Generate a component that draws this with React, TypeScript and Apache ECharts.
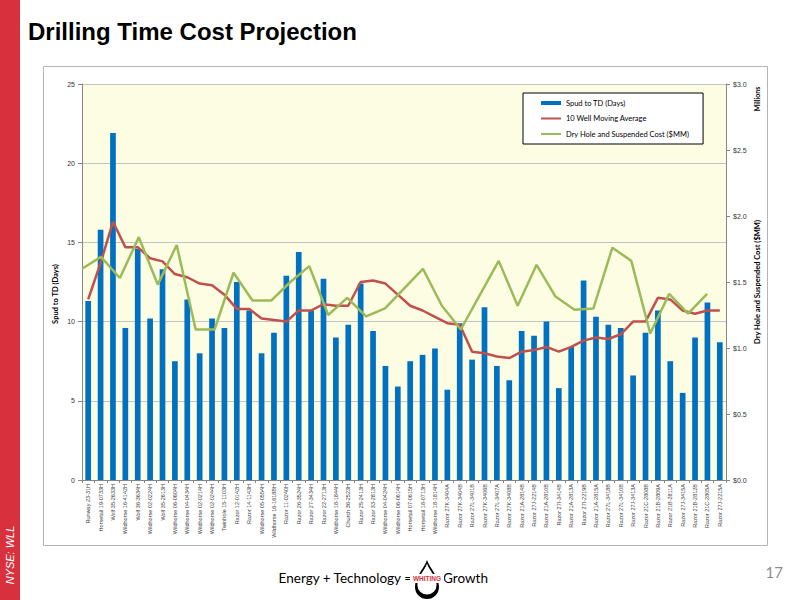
import React, { useEffect, useRef } from 'react';
import * as echarts from 'echarts';

const wells = [
  'Runway 23-31H', 'Horsetail 19-0733H', 'Wolf 35-2633H', 'Wildhorse 16-4142H', 'Wolf 36-3634H',
  'Wildhorse 02-0224H', 'Wolf 35-2613H', 'Wildhorse 06-0604H', 'Wildhorse 04-0434H', 'Wildhorse 02-0214H',
  'Wildhorse 02-0244H', 'Twinhole 15-1103H', 'Razor 12-0142H', 'Razor 14-1143H', 'Wildhorse 05-0554H',
  'Wildhorse 16-1618BH', 'Razor 11-0240H', 'Razor 26-3524H', 'Razor 27-3434H', 'Razor 22-2713H',
  'Wildhorse 18-1844H', 'Church 36-2523H', 'Razor 25-2413H', 'Razor 33-2813H', 'Wildhorse 04-0424H',
  'Wildhorse 06-0614H', 'Horsetail 07-0615H', 'Horsetail 18-0713H', 'Wildhorse 18-1814H', 'Razor 27K-3404A',
  'Razor 27K-3404B', 'Razor 27L-3401B', 'Razor 27K-3406B', 'Razor 27L-3407A', 'Razor 27K-3408B',
  'Razor 21A-2814B', 'Razor 27J-2214B', 'Razor 21A-2810B', 'Razor 27I-3414B', 'Razor 21A-2813A',
  'Razor 27I-2219B', 'Razor 21A-2815A', 'Razor 27L-3418B', 'Razor 27L-3410B', 'Razor 27J-3413A',
  'Razor 21C-2808B', 'Razor 21B-2809A', 'Razor 21B-2811A', 'Razor 27J-3415A', 'Razor 21B-2812B',
  'Razor 21C-2805A', 'Razor 27J-2215A',
];

const spudDays = [
  11.3, 15.8, 21.9, 9.6, 14.6, 10.2, 13.3, 7.5, 11.4, 8.0,
  10.2, 9.6, 12.5, 10.7, 8.0, 9.3, 12.9, 14.4, 10.7, 12.7,
  9.0, 9.8, 12.4, 9.4, 7.2, 5.9, 7.5, 7.9, 8.3, 5.7,
  9.9, 7.6, 10.9, 7.2, 6.3, 9.4, 9.1, 10.0, 5.8, 8.4,
  12.6, 10.3, 9.8, 9.6, 6.6, 9.3, 10.7, 7.5, 5.5, 9.0,
  11.2, 8.7,
];

const movingAvg = [
  11.4, 13.7, 16.3, 14.7, 14.7, 14.0, 13.8, 13.0, 12.8, 12.4,
  12.3, 11.7, 10.8, 10.8, 10.2, 10.1, 10.0, 10.7, 10.7, 11.1,
  11.0, 11.0, 12.5, 12.6, 12.4, 11.7, 11.0, 10.7, 10.3, 9.9,
  9.8, 8.1, 8.0, 7.8, 7.7, 8.1, 8.2, 8.4, 8.1, 8.4,
  8.8, 9.0, 8.9, 9.2, 10.0, 10.0, 11.5, 11.4, 10.7, 10.5,
  10.7, 10.7,
];

const dryHoleCost = [
  1.60, 1.69, 1.53, 1.84, 1.48, 1.78, 1.14, 1.14, 1.57, 1.36,
  1.36, 1.50, 1.62, 1.25, 1.38, 1.24, 1.30, 1.45, 1.60, 1.32,
  1.14, 1.40, 1.66, 1.32, 1.63, 1.39, 1.29, 1.30, 1.76, 1.66,
  1.11, 1.41, 1.26, 1.41,
];

// slots of the hidden secondary category axis used by the cost line
const costSlots = [
  '1', '2', '3', '4', '5', '6', '7', '8', '9', '10', '11', '12', '13', '14', '15', '16', '17', '18',
  '19', '20', '21', '22', '23', '24', '25', '26', '27', '28', '29', '30', '31', '32', '33', '34', '35',
];

const leftTicks = { min: 0, max: 25, interval: 5 };
const rightTicks = { min: 0, max: 3, interval: 0.5 };

const dropPath =
  'M0,-22 C3,-13 12,-6 12,5 A12,12 0 1 1 -12,5 C-12,-6 -3,-13 0,-22 Z';
echarts.graphic.registerShape('drop', echarts.graphic.extendPath(dropPath, {}) as any);

export default function App() {
  const ref = useRef<HTMLDivElement>(null);

  useEffect(() => {
    if (!ref.current) return;
    const chart = echarts.init(ref.current, undefined, { renderer: 'svg' });
    const axisGray = '#868686';
    const option: any = {
      animation: false,
      backgroundColor: '#ffffff',
      textStyle: { fontFamily: 'Liberation Sans' },
      grid: {
        left: 82,
        right: 74,
        top: 84,
        bottom: 120,
        show: true,
        backgroundColor: '#fdfde4',
        borderWidth: 0,
      },
      legend: {
        orient: 'vertical',
        left: 523,
        top: 93,
        padding: [6, 14, 6, 17],
        itemGap: 7.5,
        itemWidth: 20,
        itemHeight: 4,
        selectedMode: false,
        backgroundColor: '#ffffff',
        borderColor: '#000000',
        borderWidth: 1,
        textStyle: { fontSize: 7.5, fontFamily: 'Lato', color: '#000000' },
        data: [
          { name: 'Spud to TD (Days)', icon: 'rect' },
          { name: '10 Well Moving Average', itemStyle: { opacity: 0 } },
          { name: 'Dry Hole and Suspended Cost ($MM)', itemStyle: { opacity: 0 } },
        ],
      },
      xAxis: [
        {
          type: 'category',
          data: wells,
          boundaryGap: true,
          axisLine: { show: true, lineStyle: { color: axisGray } },
          axisTick: { show: true, interval: 0, length: 3, lineStyle: { color: axisGray } },
          axisLabel: {
            interval: 0,
            rotate: 90,
            fontSize: 5.5,
            color: '#404040',
            margin: 4,
            fontFamily: 'Liberation Sans',
          },
          splitLine: { show: false },
        },
        {
          type: 'category',
          data: costSlots,
          boundaryGap: false,
          show: false,
        },
      ],
      yAxis: [
        {
          type: 'value',
          min: leftTicks.min,
          max: leftTicks.max,
          interval: leftTicks.interval,
          axisLine: { show: true, lineStyle: { color: axisGray } },
          axisTick: { show: true, length: 4, lineStyle: { color: axisGray } },
          axisLabel: { fontSize: 7, color: '#333333', margin: 7 },
          splitLine: { show: true, lineStyle: { color: '#c4c4c4', width: 1 } },
        },
        {
          type: 'value',
          position: 'right',
          min: rightTicks.min,
          max: rightTicks.max,
          interval: rightTicks.interval,
          axisLine: { show: true, lineStyle: { color: axisGray } },
          axisTick: { show: true, length: 4, lineStyle: { color: axisGray } },
          axisLabel: {
            fontSize: 7,
            color: '#333333',
            margin: 7,
            formatter: (v: number) => '$' + v.toFixed(1),
          },
          splitLine: { show: false },
        },
      ],
      series: [
        {
          name: 'Spud to TD (Days)',
          type: 'bar',
          xAxisIndex: 0,
          yAxisIndex: 0,
          data: spudDays,
          barWidth: '46%',
          itemStyle: { color: '#0070c0' },
          z: 2,
        },
        {
          name: '10 Well Moving Average',
          type: 'line',
          xAxisIndex: 0,
          yAxisIndex: 0,
          data: movingAvg,
          symbol: 'none',
          lineStyle: { color: '#c0504d', width: 2.5 },
          itemStyle: { color: '#c0504d' },
          z: 3,
        },
        {
          name: 'Dry Hole and Suspended Cost ($MM)',
          type: 'line',
          xAxisIndex: 1,
          yAxisIndex: 1,
          data: dryHoleCost,
          symbol: 'none',
          lineStyle: { color: '#9bbb59', width: 2.5 },
          itemStyle: { color: '#9bbb59' },
          z: 4,
        },
      ],
      graphic: [
        { type: 'rect', z: 100, shape: { x: 0, y: 0, width: 20, height: 600 }, style: { fill: '#d9303e' } },
        {
          type: 'text', z: 101, x: 10, y: 555, rotation: Math.PI / 2,
          style: {
            text: 'NYSE: WLL', fill: '#ffffff', fontSize: 11, fontStyle: 'italic',
            fontFamily: 'Liberation Sans', align: 'center', verticalAlign: 'middle',
          },
        },
        {
          type: 'text', z: 100, x: 28, y: 31,
          style: {
            text: 'Drilling Time Cost Projection', fill: '#000000', fontSize: 24, fontWeight: 'bold',
            fontFamily: 'Liberation Sans', align: 'left', verticalAlign: 'middle',
          },
        },
        {
          type: 'rect', z: -1, shape: { x: 43.5, y: 66.5, width: 724, height: 479 },
          style: { fill: 'none', stroke: '#b5b5b5', lineWidth: 1 },
        },
        {
          type: 'text', z: 100, x: 55, y: 294, rotation: Math.PI / 2,
          style: {
            text: 'Spud to TD (Days)', fill: '#000000', fontSize: 7.5, fontWeight: 'bold',
            fontFamily: 'Lato', align: 'center', verticalAlign: 'middle',
          },
        },
        {
          type: 'text', z: 100, x: 757, y: 282, rotation: Math.PI / 2,
          style: {
            text: 'Dry Hole and Suspended Cost ($MM)', fill: '#000000', fontSize: 7.5, fontWeight: 'bold',
            fontFamily: 'Lato', align: 'center', verticalAlign: 'middle',
          },
        },
        {
          type: 'text', z: 100, x: 757, y: 99, rotation: Math.PI / 2,
          style: {
            text: 'Millions', fill: '#000000', fontSize: 7, fontWeight: 'bold',
            fontFamily: 'Lato', align: 'center', verticalAlign: 'middle',
          },
        },
        {
          type: 'text', z: 100, x: 412, y: 578,
          style: {
            text: 'Energy + Technology =', fill: '#000000', fontSize: 13.5,
            fontFamily: 'Lato', align: 'right', verticalAlign: 'middle',
          },
        },
        { type: 'drop', z: 100, x: 427, y: 582, scaleX: 1, scaleY: 1, style: { fill: '#000000' } },
        { type: 'drop', z: 101, x: 427, y: 581, scaleX: 0.8, scaleY: 0.8, style: { fill: '#ffffff' } },
        { type: 'rect', z: 102, shape: { x: 410, y: 574, width: 34, height: 9 }, style: { fill: '#ffffff' } },
        {
          type: 'text', z: 103, x: 427, y: 578.5,
          style: {
            text: 'WHITING', fill: '#d9303e', fontSize: 6.5, fontWeight: 'bold',
            fontFamily: 'Liberation Sans', align: 'center', verticalAlign: 'middle',
          },
        },
        {
          type: 'text', z: 100, x: 443, y: 578,
          style: {
            text: 'Growth', fill: '#000000', fontSize: 13.5,
            fontFamily: 'Lato', align: 'left', verticalAlign: 'middle',
          },
        },
        {
          type: 'text', z: 100, x: 783, y: 572,
          style: {
            text: '17', fill: '#8c8c8c', fontSize: 15,
            fontFamily: 'Lato', align: 'right', verticalAlign: 'middle',
          },
        },
      ],
    };
    chart.setOption(option);
    return () => {
      chart.dispose();
    };
  }, []);

  return (
    <div
      ref={ref}
      style={{ position: 'fixed', left: 0, top: 0, width: 800, height: 600, background: '#ffffff' }}
    />
  );
}
